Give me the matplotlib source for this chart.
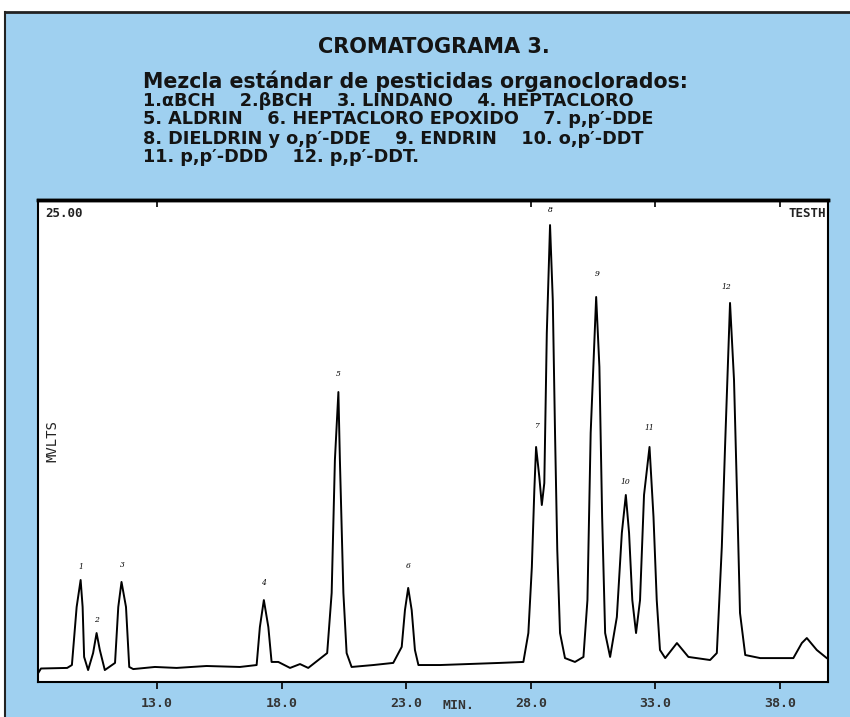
import numpy as np
import matplotlib.pyplot as plt
from matplotlib.patches import Rectangle
from matplotlib.lines import Line2D

# trace (time in min, signal in mV)
time_min = [8.23, 8.35, 9.40, 9.59, 9.78, 9.94, 10.02, 10.08, 10.24,
            10.44, 10.58, 10.71, 10.91,
            11.32, 11.45, 11.58, 11.76, 11.89, 12.05,
            12.92, 13.79, 14.99, 16.33,
            17.00, 17.13, 17.29, 17.47, 17.60, 17.87, 18.34, 18.74, 19.07,
            19.83, 20.01, 20.14, 20.28, 20.34, 20.48, 20.61, 20.81,
            21.68, 22.48,
            22.82, 22.95, 23.08, 23.22, 23.35, 23.49, 24.36,
            26.76, 27.70,
            27.90, 28.04, 28.14, 28.21, 28.34, 28.44, 28.54, 28.64, 28.77,
            28.88, 28.97, 29.06, 29.17, 29.37, 29.77, 30.11,
            30.27, 30.40, 30.62, 30.75, 30.86, 30.98, 31.18,
            31.45, 31.65, 31.81, 31.94, 32.07, 32.22,
            32.38, 32.54, 32.76, 32.92, 33.05, 33.18, 33.39,
            33.86, 34.32, 35.19,
            35.46, 35.66, 35.79, 35.99, 36.15, 36.29, 36.39, 36.60, 37.20, 38.53,
            38.87, 39.07, 39.47, 39.87, 39.92]
signal_mv = [0.45, 0.70, 0.73, 0.88, 3.89, 5.29, 3.89, 1.30, 0.62,
             1.50, 2.54, 1.66, 0.62,
             0.99, 3.89, 5.19, 3.89, 0.78, 0.67,
             0.78, 0.73, 0.83, 0.78,
             0.88, 2.85, 4.25, 2.85, 1.04, 1.04, 0.73, 0.93, 0.73,
             1.50, 4.62, 11.52, 15.04, 11.52, 4.62, 1.50, 0.78,
             0.88, 0.99,
             1.82, 3.73, 4.88, 3.73, 1.66, 0.88, 0.88,
             0.99, 1.04,
             2.54, 5.96, 9.96, 12.19, 10.63, 9.18, 10.32, 18.10, 23.70,
             19.81, 12.92, 6.85, 2.54, 1.24, 1.04, 1.30,
             4.25, 12.92, 19.97, 16.34, 8.56, 2.54, 1.30,
             3.37, 7.73, 9.70, 7.73, 4.25, 2.54,
             4.25, 9.70, 12.19, 8.56, 4.25, 1.66, 1.24,
             2.02, 1.30, 1.14,
             1.50, 7.00, 12.19, 19.66, 15.66, 8.77, 3.58, 1.40, 1.24, 1.24,
             2.02, 2.28, 1.66, 1.24, 1.20]

# peak numbers written above each peak
peak_ids = ['1', '2', '3', '4', '5', '6', '7', '8', '9', '10', '11', '12']
peak_time = [9.94, 10.58, 11.62, 17.29, 20.28, 23.08, 28.21, 28.77, 30.66, 31.81, 32.76, 35.83]
peak_label_mv = [5.96, 3.22, 6.07, 5.14, 15.98, 6.02, 13.28, 24.48, 21.16, 10.37, 13.17, 20.49]

xticks = [13.0, 18.0, 23.0, 28.0, 33.0, 38.0]
xtick_labels = ['13.0', '18.0', '23.0', '28.0', '33.0', '38.0']
top_ticks = [13.0, 28.0, 33.0, 38.0]

title = 'CROMATOGRAMA 3.'
legend_lines = [
    'Mezcla estándar de pesticidas organoclorados:',
    '1.\u03b1BCH    2.\u03b2BCH    3. LINDANO    4. HEPTACLORO',
    '5. ALDRIN    6. HEPTACLORO EPOXIDO    7. p,p\u2032-DDE',
    '8. DIELDRIN y o,p\u2032-DDE    9. ENDRIN    10. o,p\u2032-DDT',
    '11. p,p\u2032-DDD    12. p,p\u2032-DDT.',
]

blue = '#9fd0f0'
ink = '#141414'

fig = plt.figure(figsize=(8.5, 7.17), dpi=100, facecolor='white')

# light blue card with a dark frame on top / left
fig.patches.append(Rectangle((5 / 850, 0), 1, 1 - 12 / 717, transform=fig.transFigure,
                             facecolor=blue, edgecolor='none', zorder=-1))
fig.lines.append(Line2D([5 / 850, 1], [1 - 12 / 717] * 2, transform=fig.transFigure,
                        color='#222222', lw=2))
fig.lines.append(Line2D([5 / 850] * 2, [0, 1 - 12 / 717], transform=fig.transFigure,
                        color='#222222', lw=1.5))

fig.text(434 / 850, 1 - 47 / 717, title, ha='center', va='center', fontsize=15,
         fontweight='bold', family='DejaVu Sans', color=ink)
fig.text(143 / 850, 1 - 81 / 717, legend_lines[0], ha='left', va='center', fontsize=14.8,
         fontweight='bold', family='DejaVu Sans', color=ink)
for i, line in enumerate(legend_lines[1:]):
    fig.text(143 / 850, 1 - (100.5 + 19 * i) / 717, line, ha='left', va='center',
             fontsize=12.7, fontweight='bold', family='DejaVu Sans', color=ink)

ax = fig.add_axes([38 / 850, 35 / 717, 790 / 850, 482 / 717])
ax.set_facecolor('white')
ax.plot(time_min, signal_mv, color='black', lw=1.4)

for lab, t, y in zip(peak_ids, peak_time, peak_label_mv):
    ax.text(t, y, lab, ha='center', va='center', fontsize=5.5, color='black',
            family='DejaVu Serif', style='italic')

ax.set_xlim(8.23, 39.92)
ax.set_ylim(0, 25)
ax.set_xticks(xticks)
ax.set_xticklabels(xtick_labels, family='DejaVu Sans Mono', fontweight='bold',
                   fontsize=9.5, color='#333333')
ax.set_yticks([])
ax.tick_params(axis='x', direction='out', length=5, width=1.2, pad=6)
for side in ['left', 'right', 'bottom']:
    ax.spines[side].set_linewidth(1.5)
ax.spines['top'].set_linewidth(2.5)

# recorder marks hanging from the top edge
top = ax.secondary_xaxis('top')
top.set_xticks(top_ticks)
top.set_xticklabels([])
top.tick_params(direction='in', length=5, width=1.2)
top.spines['top'].set_linewidth(2.5)

ax.text(0.009, 0.985, '25.00', transform=ax.transAxes, ha='left', va='top',
        family='DejaVu Sans Mono', fontweight='bold', fontsize=9, color='#222222')
ax.text(0.997, 0.985, 'TESTH', transform=ax.transAxes, ha='right', va='top',
        family='DejaVu Sans Mono', fontweight='bold', fontsize=9, color='#222222')
ax.text(0.009, 0.5, 'MVLTS', transform=ax.transAxes, ha='left', va='center',
        rotation=90, family='DejaVu Sans Mono', fontsize=10, color='#222222')
ax.text(25.1, -0.035, 'MIN.', transform=ax.get_xaxis_transform(), ha='center', va='top',
        family='DejaVu Sans Mono', fontweight='bold', fontsize=9.5, color='#333333')

fig.savefig('out.png', dpi=100, facecolor=fig.get_facecolor())
